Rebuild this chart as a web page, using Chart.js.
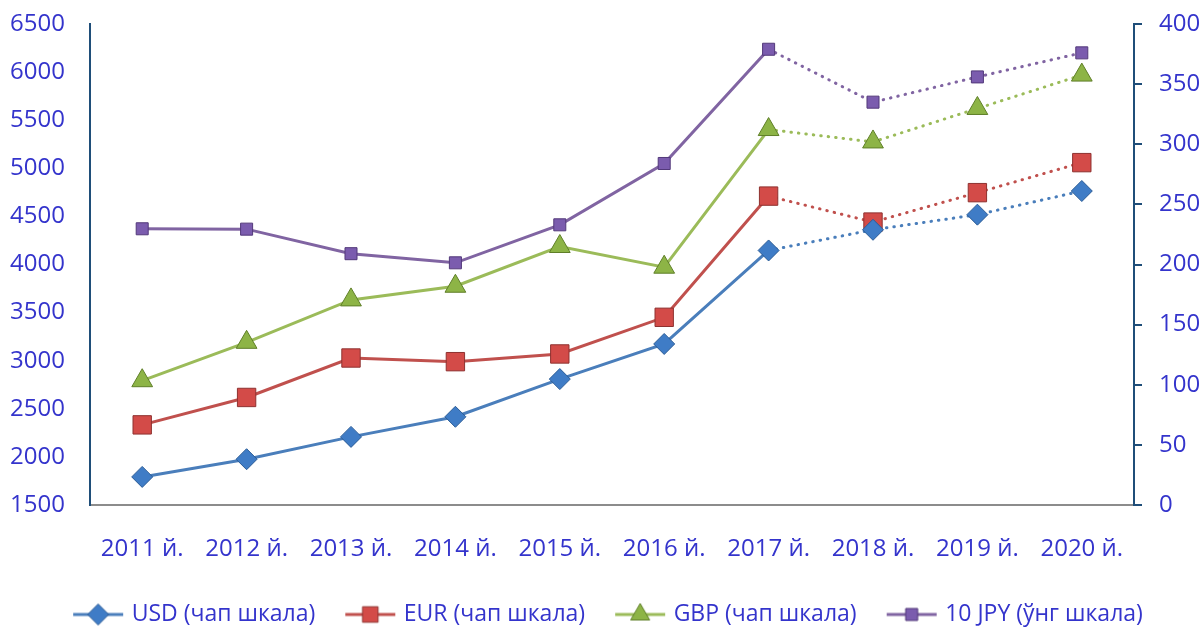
<!DOCTYPE html>
<html>
<head>
<meta charset="utf-8">
<script src="https://cdn.jsdelivr.net/npm/chart.js@4"></script>
<style>
  html, body { margin: 0; padding: 0; background: #fff; overflow: hidden; }
  #wrap { width: 1201px; height: 628px; overflow: hidden; }
</style>
</head>
<body>
<div id="wrap"><canvas id="chart" width="1201" height="640"></canvas></div>
<script>
// values
const years = ['2011 й.', '2012 й.', '2013 й.', '2014 й.', '2015 й.', '2016 й.', '2017 й.', '2018 й.', '2019 й.', '2020 й.']
const usd = [1792, 1976, 2208, 2417, 2809, 3174, 4146, 4361, 4518, 4764]
const eur = [2333, 2618, 3028, 2990, 3070, 3451, 4711, 4441, 4747, 5059]
const gbp = [2792, 3191, 3632, 3774, 4187, 3972, 5403, 5274, 5622, 5969]
const jpy10 = [229.7, 229.4, 209, 201.4, 233, 284, 379, 335, 356, 376]
const seriesNames = ['USD (чап шкала)', 'EUR (чап шкала)', 'GBP (чап шкала)', '10 JPY (ўнг шкала)']

const textColor = '#3434cc'
const axisBlue = '#1f4e79'
const font = '"Open Sans", "DejaVu Sans", sans-serif'
const forecastFrom = 6 // from 2017 on the lines are dotted

function dotted(ctx) {
    return ctx.p0DataIndex >= forecastFrom ? [0.5, 7] : undefined
}

function makeSet(label, data, line, fill, edge, style, radius, axis) {
    return {
        label: label,
        data: data,
        yAxisID: axis,
        borderColor: line,
        borderWidth: 3,
        borderCapStyle: 'round',
        pointStyle: style,
        pointRadius: radius,
        pointHoverRadius: radius,
        pointBackgroundColor: fill,
        pointBorderColor: edge,
        pointBorderWidth: 1,
        tension: 0,
        segment: { borderDash: dotted },
        _fill: fill, _edge: edge
    }
}

const datasets = [
    makeSet(seriesNames[0], usd, '#4a7ebb', '#3f7cc6', '#2b5c96', 'rectRot', 10.5, 'left'),
    makeSet(seriesNames[1], eur, '#c0504d', '#d34b48', '#8e3230', 'rect', 13, 'left'),
    makeSet(seriesNames[2], gbp, '#9bbb59', '#8db446', '#5f7f28', 'triangle', 12, 'left'),
    makeSet(seriesNames[3], jpy10, '#8064a2', '#7b5cae', '#53397a', 'rect', 8.5, 'right'),
]

// small canvas with line + marker for the legend
function legendIcon(ds) {
    const c = document.createElement('canvas')
    c.width = 52
    c.height = 26
    const g = c.getContext('2d')
    g.strokeStyle = ds.borderColor
    g.lineWidth = 3
    g.beginPath()
    g.moveTo(1, 13)
    g.lineTo(51, 13)
    g.stroke()
    g.fillStyle = ds._fill
    g.strokeStyle = ds._edge
    g.lineWidth = 1
    const r = Math.min(ds.pointRadius, 11)
    g.beginPath()
    if (ds.pointStyle === 'rectRot') {
        g.moveTo(26, 13 - r); g.lineTo(26 + r, 13); g.lineTo(26, 13 + r); g.lineTo(26 - r, 13)
    } else if (ds.pointStyle === 'triangle') {
        g.moveTo(26, 13 - r); g.lineTo(26 + r * 0.866, 13 + r * 0.5); g.lineTo(26 - r * 0.866, 13 + r * 0.5)
    } else {
        const s = r * Math.SQRT1_2
        g.rect(26 - s, 13 - s, 2 * s, 2 * s)
    }
    g.closePath()
    g.fill()
    g.stroke()
    return c
}

const plain = (v) => String(v)
// no extra room above/below the end labels, the layout padding handles it
const noEndPadding = (s) => { s.paddingTop = 0; s.paddingBottom = 0 }

// the left padding is only there to centre the legend, let the left axis labels use it
const widenLeftAxis = {
    id: 'widenLeftAxis',
    afterLayout(chart) {
        chart.scales.left.left = 0
    }
}

new Chart(document.getElementById('chart'), {
    type: 'line',
    data: { labels: years, datasets: datasets },
    plugins: [widenLeftAxis],
    options: {
        responsive: false,
        animation: false,
        layout: { padding: { top: 24, left: 18, right: 0, bottom: 4 } },
        plugins: {
            tooltip: { enabled: false },
            legend: {
                position: 'bottom',
                labels: {
                    usePointStyle: true,
                    pointStyleWidth: 44,
                    padding: 33,
                    color: textColor,
                    font: { family: font, size: 23 },
                    generateLabels: (chart) => chart.data.datasets.map((ds, i) => ({
                        text: ds.label,
                        pointStyle: legendIcon(ds),
                        fontColor: textColor,
                        lineWidth: 0,
                        strokeStyle: 'transparent',
                        fillStyle: 'transparent',
                        datasetIndex: i
                    }))
                }
            }
        },
        scales: {
            x: {
                offset: true,
                grid: { display: false },
                border: { display: true, color: '#8c8c8c', width: 2 },
                ticks: { color: textColor, font: { family: font, size: 24 }, padding: 22, maxRotation: 0 },
                afterFit: (s) => { s.height = 65 }
            },
            left: {
                position: 'left',
                min: 1500, max: 6500,
                grid: { display: false },
                border: { display: true, color: axisBlue, width: 2 },
                ticks: { stepSize: 500, color: textColor, font: { family: font, size: 24 }, padding: 17, callback: plain },
                afterFit: (s) => { s.width = 72; noEndPadding(s) }
            },
            right: {
                position: 'right',
                min: 0, max: 400,
                grid: { display: true, drawOnChartArea: false, drawTicks: true, tickLength: 8, color: axisBlue, lineWidth: 2 },
                border: { display: true, color: axisBlue, width: 2 },
                ticks: { stepSize: 50, color: textColor, font: { family: font, size: 24 }, padding: 17, callback: plain },
                afterFit: (s) => { s.width = 67; noEndPadding(s) }
            }
        }
    }
})
</script>
</body>
</html>
